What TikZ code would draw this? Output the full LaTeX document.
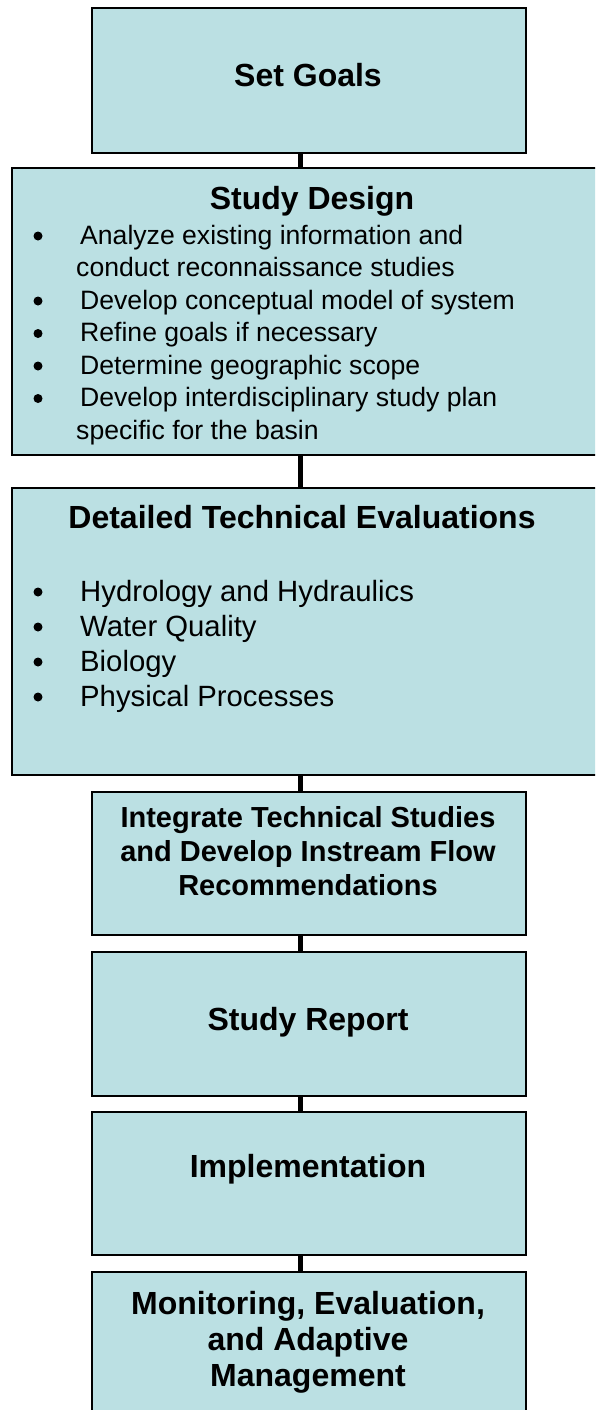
\documentclass[tikz,border=0pt]{standalone}
\usepackage{fontspec}
\setmainfont{Liberation Sans}
\definecolor{boxfill}{RGB}{187,224,227}
\tikzset{
  box/.style={draw=black, line width=2.4pt, fill=boxfill, rectangle, inner sep=0pt, anchor=north west},
  conn/.style={line width=5pt, draw=black},
  ttl/.style={font=\bfseries\fontsize{32}{36}\selectfont, inner sep=0pt, anchor=base},
  ttlsm/.style={font=\bfseries\fontsize{29}{33}\selectfont, inner sep=0pt, anchor=base},
  itemsd/.style={font=\fontsize{26.6}{32}\selectfont, inner sep=0pt, anchor=base west},
  itemde/.style={font=\fontsize{29.3}{35}\selectfont, inner sep=0pt, anchor=base west},
  bul/.style={circle, fill=black, inner sep=0pt, minimum size=9pt},
}
\begin{document}
\begin{tikzpicture}[x=1pt, y=-1pt]
\useasboundingbox (0,0) rectangle (595,1410);
\clip (0,0) rectangle (595,1410);
\fill[white] (0,0) rectangle (595,1410);
\coordinate (cx) at (300,0);
% boxes
\node[box, minimum width=434pt, minimum height=145pt] (sg) at (91,7) {};
\node[box, minimum width=594pt, minimum height=287pt] (sd) at (11,167) {};
\node[box, minimum width=594pt, minimum height=287pt] (de) at (11,487) {};
\node[box, minimum width=434pt, minimum height=143pt] (it) at (91,791) {};
\node[box, minimum width=434pt, minimum height=144pt] (sr) at (91,951) {};
\node[box, minimum width=434pt, minimum height=143pt] (im) at (91,1111) {};
\node[box, minimum width=434pt, minimum height=169pt] (mo) at (91,1271) {};
% connectors
\draw[conn] (sg.south -| cx) -- (sd.north -| cx);
\draw[conn] (sd.south -| cx) -- (de.north -| cx);
\draw[conn] (de.south -| cx) -- (it.north -| cx);
\draw[conn] (it.south -| cx) -- (sr.north -| cx);
\draw[conn] (sr.south -| cx) -- (im.north -| cx);
\draw[conn] (im.south -| cx) -- (mo.north -| cx);
% Set Goals
\node[ttl] (sgt) at (308,87) {Set Goals};
% Study Design
\node[ttl] (sdt) at (312,209) {Study Design};
\node[bul] (b1) at (38,236) {};
\node[itemsd] (s1a) at (80,244) {Analyze existing information and};
\node[itemsd] (s1b) at (76,276.5) {conduct reconnaissance studies};
\node[bul] (b2) at (38,301) {};
\node[itemsd] (s2) at (80,309) {Develop conceptual model of system};
\node[bul] (b3) at (38,333.5) {};
\node[itemsd] (s3) at (80,341.5) {Refine goals if necessary};
\node[bul] (b4) at (38,366) {};
\node[itemsd] (s4) at (80,374) {Determine geographic scope};
\node[bul] (b5) at (38,398.5) {};
\node[itemsd] (s5a) at (80,406.5) {Develop interdisciplinary study plan};
\node[itemsd] (s5b) at (76,439) {specific for the basin};
% Detailed Technical Evaluations
\node[ttl] (det) at (302,528) {Detailed Technical Evaluations};
\node[bul] (c1) at (38,592) {};
\node[itemde] (d1) at (80,601) {Hydrology and Hydraulics};
\node[bul] (c2) at (38,627) {};
\node[itemde] (d2) at (80,636) {Water Quality};
\node[bul] (c3) at (38,662) {};
\node[itemde] (d3) at (80,671) {Biology};
\node[bul] (c4) at (38,697) {};
\node[itemde] (d4) at (80,706) {Physical Processes};
% Integrate
\node[ttlsm] (it1) at (308,827) {Integrate Technical Studies};
\node[ttlsm] (it2) at (308,861) {and Develop Instream Flow};
\node[ttlsm] (it3) at (308,895) {Recommendations};
% Study Report
\node[ttl] (srt) at (308,1030) {Study Report};
% Implementation
\node[ttl] (imt) at (308,1177) {Implementation};
% Monitoring
\node[ttl] (mo1) at (308,1314) {Monitoring, Evaluation,};
\node[ttl] (mo2) at (308,1350) {and Adaptive};
\node[ttl] (mo3) at (308,1386) {Management};
\end{tikzpicture}
\end{document}
